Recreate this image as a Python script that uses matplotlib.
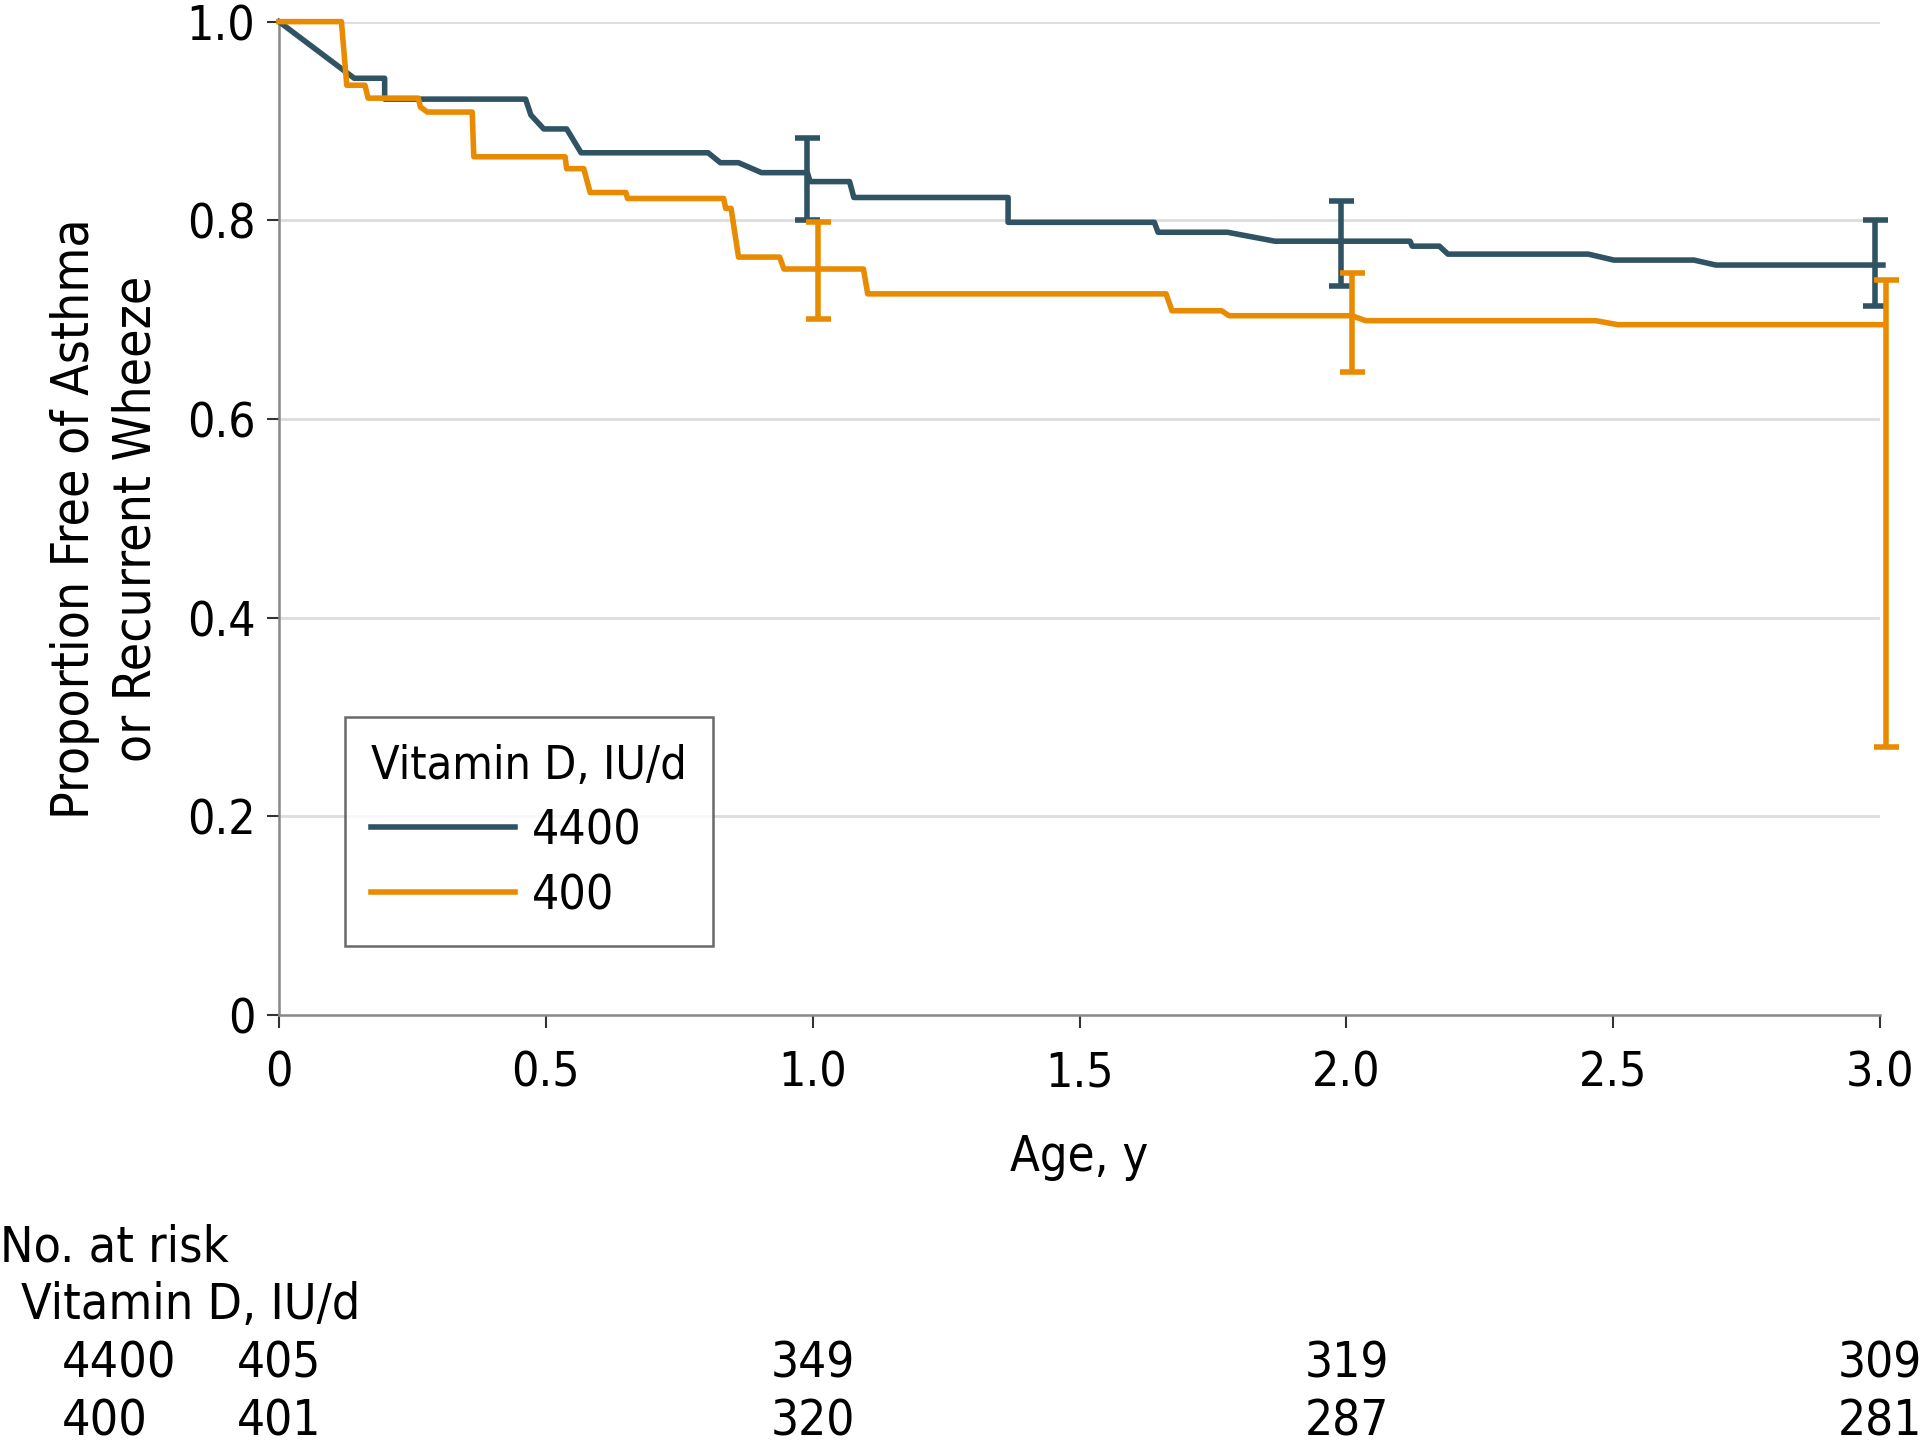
import matplotlib
matplotlib.use('Agg')
import matplotlib.pyplot as plt
from matplotlib.transforms import blended_transform_factory

plt.rcParams['font.family'] = ['Liberation Sans Narrow', 'DejaVu Sans']
plt.rcParams['font.stretch'] = 'condensed'

# survival curves (age in years, proportion free)
x_4400 = [0, 0.141, 0.198, 0.198, 0.462, 0.472, 0.496, 0.539, 0.566, 0.804, 0.827, 0.861,
          0.904, 0.99, 0.995, 1.069, 1.077, 1.366, 1.366, 1.640, 1.647, 1.777, 1.866, 2.119,
          2.123, 2.174, 2.190, 2.453, 2.501, 2.651, 2.692, 3.005]
y_4400 = [1.0, 0.943, 0.943, 0.922, 0.922, 0.906, 0.892, 0.892, 0.868, 0.868, 0.858, 0.858,
          0.848, 0.848, 0.839, 0.839, 0.823, 0.823, 0.798, 0.798, 0.788, 0.788, 0.779, 0.779,
          0.774, 0.774, 0.766, 0.766, 0.760, 0.760, 0.755, 0.755]

x_400 = [0, 0.117, 0.127, 0.161, 0.167, 0.261, 0.265, 0.278, 0.362, 0.365, 0.536, 0.539,
         0.571, 0.583, 0.650, 0.653, 0.833, 0.837, 0.847, 0.861, 0.938, 0.946, 1.095, 1.103,
         1.662, 1.673, 1.766, 1.780, 2.010, 2.036, 2.467, 2.508, 3.007]
y_400 = [1.0, 1.0, 0.936, 0.936, 0.923, 0.923, 0.914, 0.909, 0.909, 0.864, 0.864, 0.852,
         0.852, 0.828, 0.828, 0.822, 0.822, 0.812, 0.812, 0.763, 0.763, 0.751, 0.751, 0.726,
         0.726, 0.709, 0.709, 0.704, 0.704, 0.699, 0.699, 0.695, 0.695]

# confidence interval bars
ci_x_4400 = [0.99, 1.99, 2.99]
ci_mid_4400 = [0.848, 0.779, 0.755]
ci_lo_4400 = [0.800, 0.734, 0.714]
ci_hi_4400 = [0.883, 0.819, 0.800]

ci_x_400 = [1.01, 2.01, 3.01]
ci_mid_400 = [0.751, 0.704, 0.695]
ci_lo_400 = [0.701, 0.647, 0.270]
ci_hi_400 = [0.798, 0.747, 0.740]

# number at risk table
risk_times = [0, 1.0, 2.0, 3.0]
risk_4400 = [405, 349, 319, 309]
risk_400 = [401, 320, 287, 281]

blue = '#2F5363'
orange = '#E98B00'

fig = plt.figure(figsize=(19.2, 14.42), dpi=100)
ax = fig.add_axes([0.1453, 0.296, 0.834, 0.689])

for y in [0.2, 0.4, 0.6, 0.8, 1.0]:
    ax.axhline(y, color='#DDDDDD', lw=2, zorder=0)

ax.plot(x_4400, y_4400, color=blue, lw=4, label='4400', clip_on=False, zorder=3)
ax.plot(x_400, y_400, color=orange, lw=4, label='400', clip_on=False, zorder=3)

ax.errorbar(ci_x_4400, ci_mid_4400,
            yerr=[[m - l for m, l in zip(ci_mid_4400, ci_lo_4400)],
                  [h - m for m, h in zip(ci_mid_4400, ci_hi_4400)]],
            fmt='none', ecolor=blue, elinewidth=4, capsize=9, capthick=4,
            clip_on=False, zorder=4)
ax.errorbar(ci_x_400, ci_mid_400,
            yerr=[[m - l for m, l in zip(ci_mid_400, ci_lo_400)],
                  [h - m for m, h in zip(ci_mid_400, ci_hi_400)]],
            fmt='none', ecolor=orange, elinewidth=4, capsize=9, capthick=4,
            clip_on=False, zorder=4)

ax.set_xlim(0, 3.0)
ax.set_ylim(0, 1.0)
ax.set_xticks([0, 0.5, 1.0, 1.5, 2.0, 2.5, 3.0])
ax.set_xticklabels(['0', '0.5', '1.0', '1.5', '2.0', '2.5', '3.0'])
ax.set_yticks([0, 0.2, 0.4, 0.6, 0.8, 1.0])
ax.set_yticklabels(['0', '0.2', '0.4', '0.6', '0.8', '1.0'])
ax.tick_params(labelsize=34.5, length=9, width=1.5, color='#333333')
ax.tick_params(axis='x', pad=16)
ax.tick_params(axis='y', pad=8)

for side in ['top', 'right']:
    ax.spines[side].set_visible(False)
for side in ['left', 'bottom']:
    ax.spines[side].set_color('#888888')
    ax.spines[side].set_linewidth(1.8)

ax.set_xlabel('Age, y', fontsize=35, labelpad=26)
ax.set_ylabel('Proportion Free of Asthma\nor Recurrent Wheeze', fontsize=37, labelpad=18,
              linespacing=1.3)

leg = ax.legend(title='Vitamin D, IU/d', loc='lower left', bbox_to_anchor=(0.041, 0.07),
                borderaxespad=0, fontsize=34.5, title_fontsize=33.5, frameon=True,
                fancybox=False, handlelength=3.0, handletextpad=0.35, borderpad=0.55,
                labelspacing=0.38)
leg.get_frame().set_edgecolor('#444444')
leg.get_frame().set_linewidth(1.8)
leg._legend_box.align = 'left'

# number at risk table
tr = blended_transform_factory(ax.transData, fig.transFigure)
fig.text(0.0, 1 - 1247 / 1442, 'No. at risk', fontsize=36, va='center', ha='left')
fig.text(0.011, 1 - 1305 / 1442, 'Vitamin D, IU/d', fontsize=36, va='center', ha='left')
fig.text(0.032, 1 - 1363 / 1442, '4400', fontsize=36, va='center', ha='left')
fig.text(0.032, 1 - 1421 / 1442, '400', fontsize=36, va='center', ha='left')
for t, a, b in zip(risk_times, risk_4400, risk_400):
    ax.text(t, 1 - 1363 / 1442, str(a), transform=tr, fontsize=35.5, ha='center',
            va='center', clip_on=False)
    ax.text(t, 1 - 1421 / 1442, str(b), transform=tr, fontsize=35.5, ha='center',
            va='center', clip_on=False)

fig.savefig('out.png', dpi=100)
